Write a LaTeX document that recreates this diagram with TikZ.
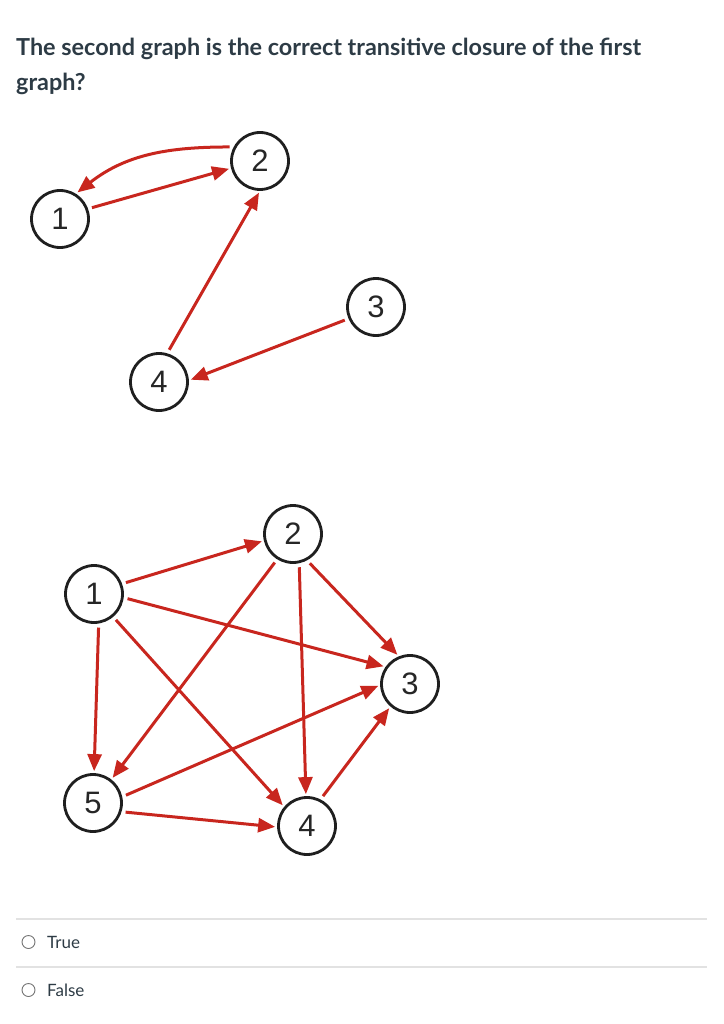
\documentclass[tikz,border=0pt]{standalone}
\usepackage{fontspec}
\setmainfont{Lato}
\newfontfamily\vtxfont{Liberation Sans}
\usetikzlibrary{arrows.meta}
\definecolor{edgered}{RGB}{200,38,30}
\definecolor{qtext}{RGB}{45,59,69}
\definecolor{rulegray}{RGB}{226,226,226}
\tikzset{
  vtx/.style={circle, draw=black!88, line width=2.8pt, minimum size=57pt, inner sep=0pt,
              font=\vtxfont\fontsize{31}{31}\selectfont, text=black!85},
  arc/.style={-{Triangle[length=17pt,width=14pt]}, line width=3pt, edgered,
              shorten <=4pt, shorten >=2pt},
  qline/.style={font=\bfseries\fontsize{23.4}{23.4}\selectfont, text=qtext, inner sep=0pt, anchor=base west},
  radio/.style={circle, draw=black!55, line width=0.9pt, minimum size=13pt, inner sep=0pt},
  answer/.style={font=\fontsize{17}{17}\selectfont, text=qtext, inner sep=0pt, anchor=base west},
  sep/.style={rulegray, line width=1.4pt}
}
\begin{document}
\begin{tikzpicture}[x=1pt, y=-1pt]
\useasboundingbox (0,0) rectangle (723,1024);
% question
\node[qline] (q1) at (16,56) {The second graph is the correct transitive closure of the first};
\node[qline] (q2) at (16,91) {graph?};
% first graph
\node[vtx] (a1) at (60,219) {1};
\node[vtx] (a2) at (260,161) {2};
\node[vtx] (a3) at (376,307) {3};
\node[vtx] (a4) at (159,382) {4};
\draw[arc] (a1.20) -- (a2.194);
\draw[arc] (a2.152) to[out=180,in=38] (a1.58);
\draw[arc] (a4.74) -- (a2.-90);
\draw[arc] (a3.203) -- (a4.3);
% second graph
\node[vtx] (b1) at (94,594) {1};
\node[vtx] (b2) at (293,534) {2};
\node[vtx] (b3) at (410,684) {3};
\node[vtx] (b4) at (307,826) {4};
\node[vtx] (b5) at (93,803) {5};
\draw[arc] (b1.20) -- (b2.193);
\draw[arc] (b1.-7) -- (b3.145);
\draw[arc] (b1.-50) -- (b4.140);
\draw[arc] (b1.-81) -- (b5.88);
\draw[arc] (b2.238) -- (b5.52);
\draw[arc] (b2.-78) -- (b4.92);
\draw[arc] (b2.-62) -- (b3.112);
\draw[arc] (b5.12) -- (b3.182);
\draw[arc] (b5.-17) -- (b4.182);
\draw[arc] (b4.63) -- (b3.229);
% answers
\draw[sep] (16,919) -- (707,919);
\draw[sep] (16,967) -- (707,967);
\node[radio] (r1) at (28.5,942) {};
\node[radio] (r2) at (28.5,990) {};
\node[answer] (t1) at (47,948) {True};
\node[answer] (t2) at (47,996) {False};
\end{tikzpicture}
\end{document}
